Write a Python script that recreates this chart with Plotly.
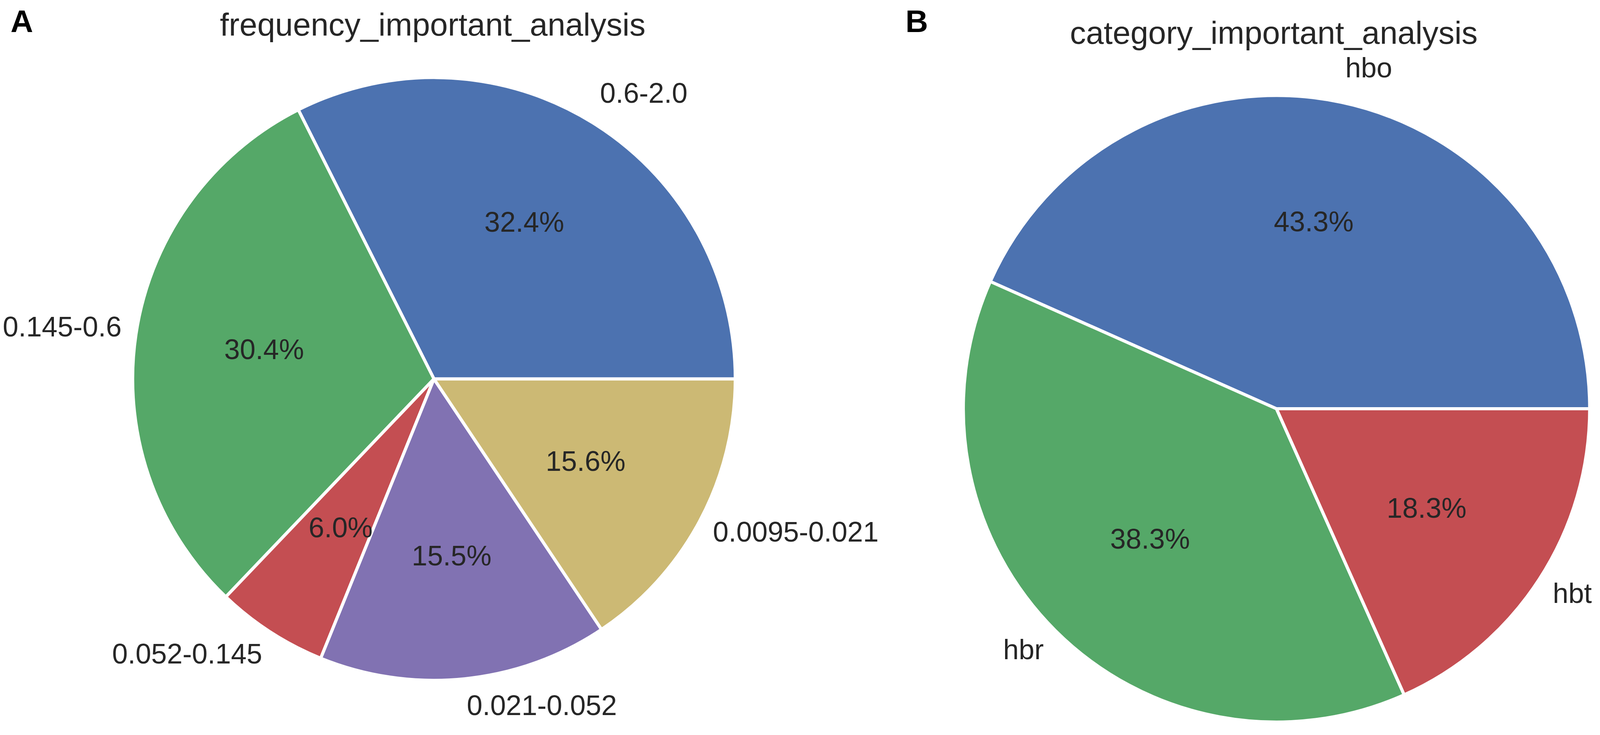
import math
import plotly.graph_objects as go

# reference picture size; positions below are given in its pixels and turned into paper fractions
W, H = 4328, 1881

freq_labels = ["0.6-2.0", "0.145-0.6", "0.052-0.145", "0.021-0.052", "0.0095-0.021"]
freq_values = [32.4, 30.4, 6.0, 15.5, 15.6]

cat_labels = ["hbo", "hbr", "hbt"]
cat_values = [43.3, 38.3, 18.3]

titles = ["frequency_important_analysis", "category_important_analysis"]
panel_letters = ["A", "B"]

# seaborn "deep" (old) colours
palette = ["#4C72B0", "#55A868", "#C44E52", "#8172B2", "#CCB974"]
TEXT = "#262626"
FONT = "Liberation Sans, Arial, sans-serif"


def paper(x, y):
    # pixel (from top-left) -> paper coords
    return x / W, 1 - y / H


fig = go.Figure()


def add_pie(labels, values, cx, cy, r, xpad):
    x0, y0 = paper(cx - xpad * r, cy + r)
    x1, y1 = paper(cx + xpad * r, cy - r)
    total = float(sum(values))
    # matplotlib starts the first wedge at 3 o'clock and goes counterclockwise
    rot = 90 - 360 * values[0] / total
    fig.add_trace(go.Pie(
        labels=labels, values=values, sort=False,
        direction="counterclockwise", rotation=rot,
        marker=dict(colors=palette[:len(values)], line=dict(color="white", width=8)),
        textinfo="none", hoverinfo="label+percent",
        domain=dict(x=[x0, x1], y=[y0, y1]), showlegend=False,
    ))
    start = 0.0
    for lab, v in zip(labels, values):
        frac = v / total
        ang = 2 * math.pi * (start + frac / 2)
        c, s = math.cos(ang), math.sin(ang)
        # percentage inside (pctdistance=0.6)
        px, py = paper(cx + 0.6 * r * c, cy - 0.6 * r * s - 8)
        fig.add_annotation(x=px, y=py, xref="paper", yref="paper", showarrow=False,
                           text="%.1f%%" % (frac * 100), xanchor="center", yanchor="middle",
                           font=dict(size=72, color=TEXT, family=FONT))
        # category label outside (labeldistance=1.1)
        lx, ly = paper(cx + 1.1 * r * c, cy - 1.1 * r * s - 9)
        fig.add_annotation(x=lx, y=ly, xref="paper", yref="paper", showarrow=False,
                           text=lab, xanchor="left" if c > 0 else "right", yanchor="middle",
                           font=dict(size=72, color=TEXT, family=FONT))
        start += frac


add_pie(freq_labels, freq_values, 1170, 970, 778, 1.12)
add_pie(cat_labels, cat_values, 3458, 1047, 810, 1.05)

# titles
for t, (tx, ty) in zip(titles, [(1166, 55), (3451, 76)]):
    x, y = paper(tx, ty)
    fig.add_annotation(x=x, y=y, xref="paper", yref="paper", showarrow=False, text=t,
                       xanchor="center", yanchor="middle",
                       font=dict(size=82, color=TEXT, family=FONT))

# panel letters
for t, (tx, ty) in zip(panel_letters, [(18, 47), (2448, 47)]):
    x, y = paper(tx, ty)
    fig.add_annotation(x=x, y=y, xref="paper", yref="paper", showarrow=False,
                       text="<b>%s</b>" % t, xanchor="left", yanchor="middle",
                       font=dict(size=80, color="black", family=FONT))

fig.update_layout(
    autosize=True,
    margin=dict(l=0, r=0, t=0, b=0),
    paper_bgcolor="white", plot_bgcolor="white",
)

fig.write_html("out.html", default_width="100%", default_height="calc(100vh - 16px)")
